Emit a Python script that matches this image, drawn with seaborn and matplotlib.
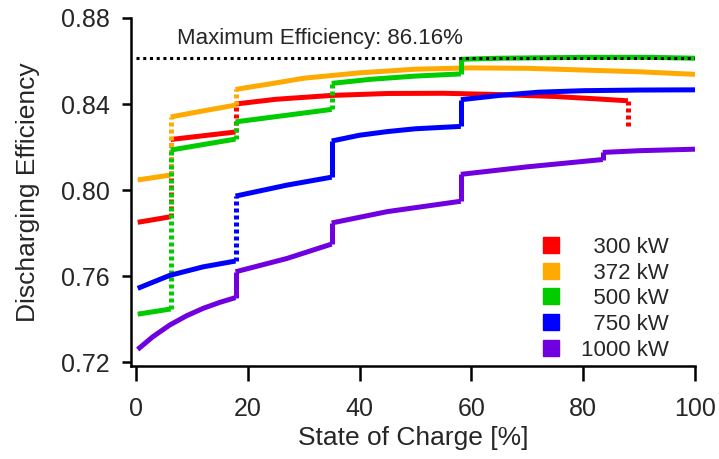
import pandas as pd
import matplotlib
import matplotlib.pyplot as plt
import seaborn as sns
from matplotlib.lines import Line2D

matplotlib.use('Agg')

# --- data: state of charge [%] and discharging efficiency per power level ---
# a repeated SOC value marks a step (jump) in the curve
powers = ['300 kW', '372 kW', '500 kW', '750 kW', '1000 kW']

soc_300 = [0.3, 6.2, 6.2, 17.8, 17.8, 25, 35, 45, 55, 65, 75, 83, 88, 88]
eff_300 = [0.785, 0.7876, 0.8235, 0.827, 0.8400, 0.8422, 0.8440, 0.8449, 0.8450,
           0.8444, 0.8435, 0.8423, 0.8415, 0.8295]

soc_372 = [0.3, 6.2, 6.2, 12, 17.8, 17.8, 25, 30, 40, 50, 60, 70, 80, 90, 100]
eff_372 = [0.8047, 0.807, 0.834, 0.8368, 0.8395, 0.8468, 0.8498, 0.852, 0.8545,
           0.8562, 0.8568, 0.8566, 0.8558, 0.855, 0.8538]

soc_500 = [0.3, 6.2, 6.2, 17.8, 17.8, 35, 35, 42, 50, 58.1, 58.1, 65, 80, 92, 100]
eff_500 = [0.7423, 0.7447, 0.8186, 0.8237, 0.8317, 0.8375, 0.8496, 0.8515, 0.853,
           0.854, 0.8608, 0.8613, 0.8617, 0.8617, 0.8613]

soc_750 = [0.3, 6, 12, 17.8, 17.8, 27, 35, 35, 40, 45, 50, 58.1, 58.1, 65, 72, 80, 90, 100]
eff_750 = [0.7543, 0.7603, 0.7643, 0.767, 0.7972, 0.8023, 0.806, 0.8228, 0.8255,
           0.8272, 0.8285, 0.8296, 0.842, 0.844, 0.8455, 0.8462, 0.8465, 0.8466]

soc_1000 = [0.3, 3, 6, 9, 12, 15, 17.8, 17.8, 27, 35, 35, 45, 58.1, 58.1, 70, 83.5,
            83.5, 90, 100]
eff_1000 = [0.7259, 0.7318, 0.7372, 0.7415, 0.745, 0.7478, 0.750, 0.762, 0.7682,
            0.7749, 0.7847, 0.790, 0.7948, 0.8073, 0.8108, 0.8142, 0.8175, 0.8183, 0.819]

# steps that show up as sparse (dotted) points in the original
dotted_steps = {'300 kW': [6.2, 17.8, 88], '372 kW': [6.2, 17.8],
                '500 kW': [6.2, 17.8, 35], '750 kW': [17.8], '1000 kW': []}

max_eff = 0.8616

colors = ['#ff0000', '#ffaa00', '#00cc00', '#0000ff', '#7000e0']
palette = dict(zip(powers, colors))

series = dict(zip(powers, [(soc_300, eff_300), (soc_372, eff_372), (soc_500, eff_500),
                           (soc_750, eff_750), (soc_1000, eff_1000)]))

# split every curve into its continuous pieces and its steps
pieces, steps = [], []
for p, (xs, ys) in series.items():
    seg = 0
    for i, (x, y) in enumerate(zip(xs, ys)):
        if i > 0 and x == xs[i - 1]:
            steps.append({'power': p, 'soc': x, 'lo': ys[i - 1], 'hi': y,
                          'dotted': x in dotted_steps[p]})
            seg += 1
        pieces.append({'power': p, 'seg': f"{p}-{seg}", 'soc': x, 'eff': y})
df = pd.DataFrame(pieces)
df_steps = pd.DataFrame(steps)

sns.set_style('ticks')
plt.rcParams['font.family'] = ['Liberation Sans', 'DejaVu Sans']

fig = plt.figure(figsize=(7.19, 4.59), dpi=100)
ax = fig.add_axes([0.1822, 0.2026, 0.7844, 0.7582])

lw = 3.6
for p in powers:
    sub = df[df['power'] == p]
    sns.lineplot(data=sub, x='soc', y='eff', units='seg', estimator=None, sort=False,
                 color=palette[p], lw=lw, ax=ax, legend=False, solid_capstyle='butt')
    for _, s in df_steps[df_steps['power'] == p].iterrows():
        ax.plot([s['soc'], s['soc']], [s['lo'], s['hi']], color=palette[p], lw=lw,
                linestyle=(0, (0.8, 0.6)) if s['dotted'] else '-',
                dash_capstyle='butt', solid_capstyle='butt')

ax.plot([0, 100], [max_eff, max_eff], color='black', lw=2.2,
        linestyle=(0, (1, 1.2)), dash_capstyle='butt', zorder=5)
ax.text(7.3, 0.8705, f"Maximum Efficiency: {max_eff * 100:.2f}%", fontsize=16,
        va='center', ha='left')

ax.set_xlim(-0.9, 100)
ax.set_ylim(0.7182, 0.88)
ax.set_xticks([0, 20, 40, 60, 80, 100])
ax.set_yticks([0.72, 0.76, 0.80, 0.84, 0.88])
ax.set_yticklabels([f"{v:.2f}" for v in [0.72, 0.76, 0.80, 0.84, 0.88]])
ax.tick_params(axis='x', length=11, width=1.8, labelsize=18, pad=11, color='black')
ax.tick_params(axis='y', length=6.5, width=1.8, labelsize=18, pad=9, color='black')
ax.set_xlabel("State of Charge [%]", fontsize=19, labelpad=4)
ax.set_ylabel("Discharging Efficiency", fontsize=19, labelpad=15)

sns.despine(ax=ax)
for side in ['left', 'bottom']:
    ax.spines[side].set_linewidth(1.8)
    ax.spines[side].set_color('black')

handles = [Line2D([], [], marker='s', linestyle='none', markersize=11,
                  markerfacecolor=c, markeredgecolor=c) for c in colors]
labels = ['\u2007' + p if len(p) < 7 else p for p in powers]
ax.legend(handles, labels, loc='upper left', bbox_to_anchor=(0.735, 0.508),
          bbox_transform=fig.transFigure, frameon=False, fontsize=16,
          handletextpad=0.85, labelspacing=0.21, borderpad=0, handlelength=1.0)

fig.savefig('out.png', dpi=100)
